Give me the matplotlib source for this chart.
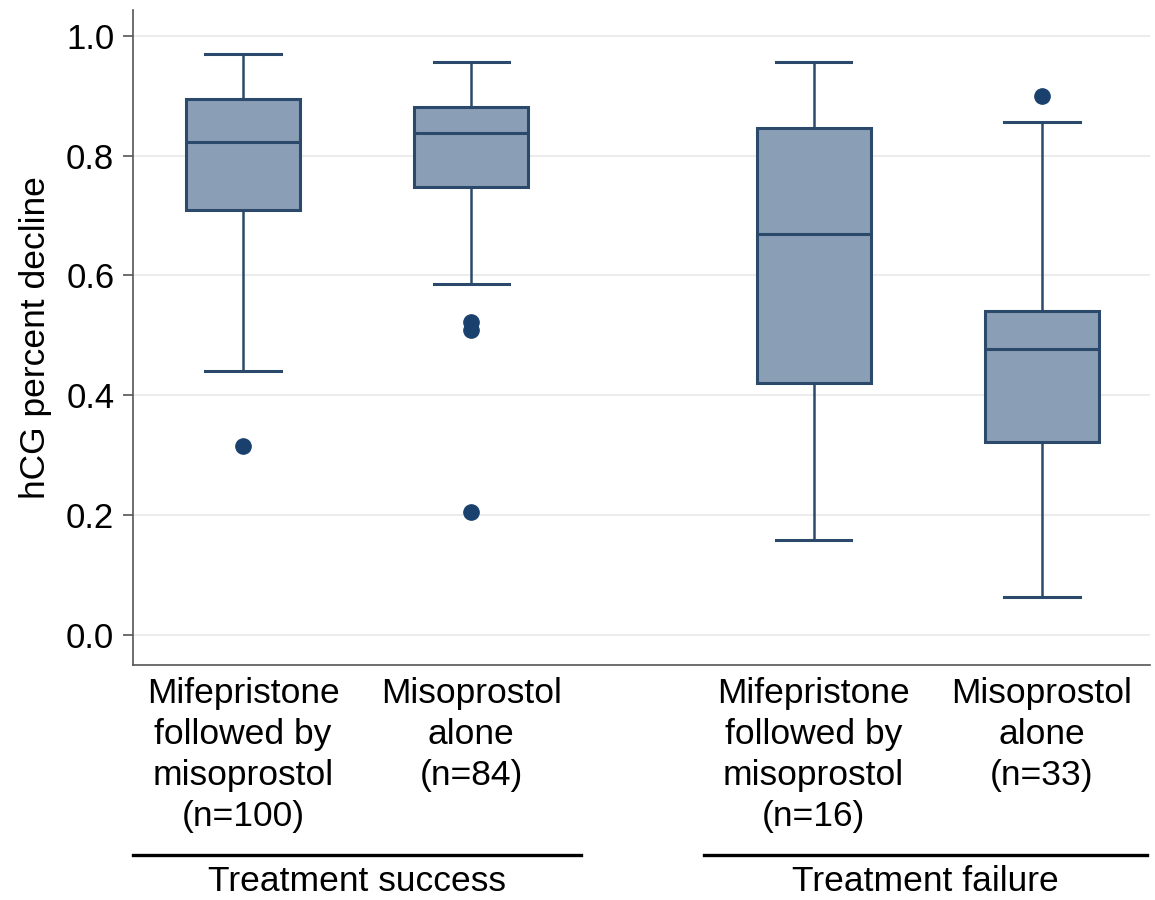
import matplotlib
matplotlib.use("Agg")
import matplotlib.pyplot as plt
from matplotlib.lines import Line2D

plt.rcParams['font.family'] = ['Liberation Sans', 'DejaVu Sans']

labels = ["Mifepristone\nfollowed by\nmisoprostol\n(n=100)",
          "Misoprostol\nalone\n(n=84)",
          "Mifepristone\nfollowed by\nmisoprostol\n(n=16)",
          "Misoprostol\nalone\n(n=33)"]
positions = [1, 2, 3.5, 4.5]
whislo = [0.441, 0.586, 0.159, 0.063]
q1 = [0.710, 0.748, 0.421, 0.322]
med = [0.823, 0.838, 0.669, 0.477]
q3 = [0.895, 0.881, 0.846, 0.541]
whishi = [0.970, 0.957, 0.957, 0.856]
fliers = [[0.316], [0.523, 0.509, 0.205], [], [0.900]]
groups = ["Treatment success", "Treatment failure"]
group_spans = [(0.518, 2.48), (3.02, 4.96)]

fill = "#8a9fb6"
edge = "#2b4a6b"
dot = "#1a416e"

fig = plt.figure(figsize=(11.55, 9), dpi=100)
ax = fig.add_axes([0.1152, 0.2611, 0.8805, 0.7278])

stats = []
for i in range(4):
    stats.append(dict(whislo=whislo[i], q1=q1[i], med=med[i], q3=q3[i],
                      whishi=whishi[i], fliers=fliers[i], label=""))

ax.bxp(stats, positions=positions, widths=0.5, capwidths=0.33, patch_artist=True,
       boxprops=dict(facecolor=fill, edgecolor=edge, linewidth=2.2),
       medianprops=dict(color=edge, linewidth=2.2),
       whiskerprops=dict(color=edge, linewidth=1.8),
       capprops=dict(color=edge, linewidth=2.2),
       flierprops=dict(marker='o', markerfacecolor=dot, markeredgecolor=dot, markersize=11))

ax.set_xlim(0.518, 4.974)
ax.set_ylim(-0.050, 1.043)
ax.set_yticks([0.0, 0.2, 0.4, 0.6, 0.8, 1.0])
ax.set_yticklabels(["0.0", "0.2", "0.4", "0.6", "0.8", "1.0"], fontsize=25)
ax.set_xticks([])
ax.yaxis.grid(True, color="#ececec", linewidth=1.5)
ax.set_axisbelow(True)
for s in ["top", "right"]:
    ax.spines[s].set_visible(False)
for s in ["left", "bottom"]:
    ax.spines[s].set_color("#555555")
    ax.spines[s].set_linewidth(1.2)
ax.tick_params(axis='y', length=7, width=1.2, color="#555555", pad=6.5)
ax.set_ylabel("hCG percent decline", fontsize=25.5, labelpad=10)

for p, lab in zip(positions, labels):
    ax.text(p, -0.070, lab, ha='center', va='top', fontsize=25.5,
            linespacing=1.31, clip_on=False)

for (x0, x1), g in zip(group_spans, groups):
    line = Line2D([x0, x1], [-0.367, -0.367], color='black', linewidth=2.4,
                  transform=ax.transData, clip_on=False)
    ax.add_line(line)
    ax.text((x0 + x1) / 2, -0.384, g, ha='center', va='top', fontsize=25.5, clip_on=False)

fig.savefig("out.png", dpi=100)
